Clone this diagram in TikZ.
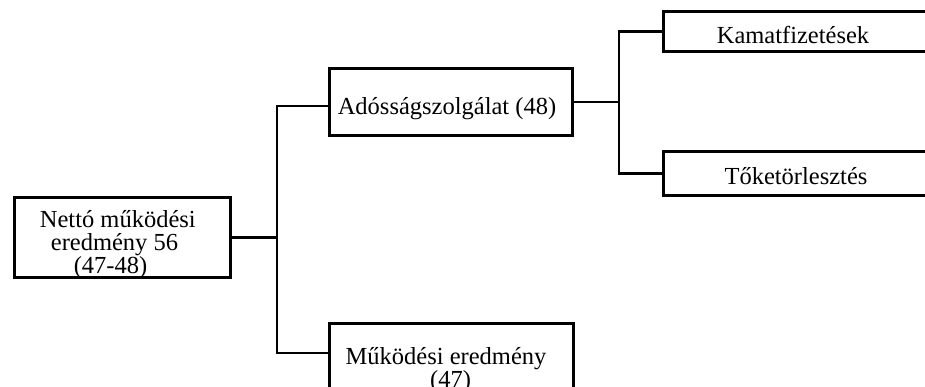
\documentclass[tikz,border=0pt]{standalone}
\usepackage{fontspec}
\setmainfont{Liberation Serif}
\begin{document}
\begin{tikzpicture}[x=1pt,y=-1pt,
  box/.style={draw=black, line width=2.8pt, inner sep=0pt, outer sep=0pt, fill=white},
  conn/.style={draw=black, line width=2.1pt},
  lbl/.style={anchor=base, inner sep=0pt, font=\fontsize{24.5}{23}\selectfont}]
\useasboundingbox (0,0) rectangle (925,387);
\clip (0,0) rectangle (925,387);
\fill[white] (0,0) rectangle (925,387);

% junction points of the tree
\coordinate (j1) at (277,237.5);
\coordinate (j2) at (619,102);

% boxes
\node[box, minimum width=216pt, minimum height=80pt] (b1) at (122.5,237.5) {};
\node[box, minimum width=243.4pt, minimum height=67.4pt] (b2) at (451,102) {};
\node[box, minimum width=276.7pt, minimum height=40.4pt] (b3) at (801.6,31.5) {};
\node[box, minimum width=276.7pt, minimum height=44.4pt] (b4) at (801.6,173.5) {};
\node[box, minimum width=244.4pt, minimum height=96.7pt] (b5) at (451.5,371.6) {};

% connectors
\draw[conn] (b1.east) -- (j1);
\draw[conn] (j1) |- ([yshift=-4pt]b2.west);
\draw[conn] (j1) |- ([yshift=-29.7pt]b5.north west);
\draw[conn] (b2.east) -- (j2);
\draw[conn] (j2) |- (b3.west);
\draw[conn] (j2) |- (b4.west);

% labels
\node[lbl] (t1a) at (117.8,228) {Nettó működési};
\node[lbl] (t1b) at (114.5,251) {eredmény 56};
\node[lbl] (t1c) at (110.5,273) {(47-48)};
\node[lbl] (t2) at (447,115) {Adósságszolgálat (48)};
\node[lbl] (t3) at (793,44) {Kamatfizetések};
\node[lbl] (t4) at (796,185) {Tőketörlesztés};
\node[lbl] (t5a) at (446,364) {Működési eredmény};
\node[lbl] (t5b) at (450.5,387) {(47)};
\end{tikzpicture}
\end{document}
